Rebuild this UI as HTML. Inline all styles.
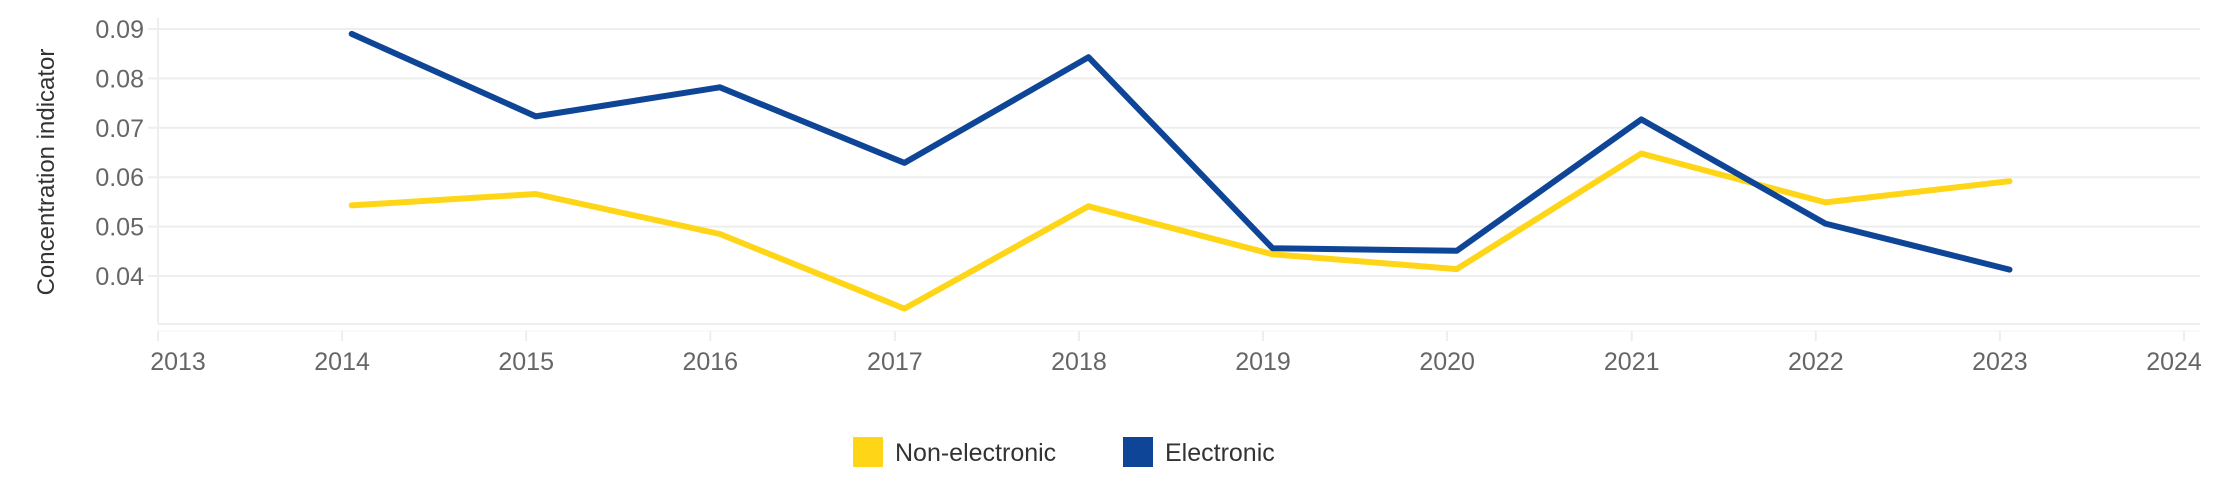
<!DOCTYPE html>
<html><head><meta charset="utf-8"><style>
html,body{margin:0;padding:0;background:#fff;}
svg{display:block;font-family:"Liberation Sans",Arial,sans-serif;}
</style></head><body>
<svg id="chart" width="2235" height="481" viewBox="0 0 2235 481" xmlns="http://www.w3.org/2000/svg">
<g id="grid"></g>
<g id="yaxis"></g>
<g id="xaxis"></g>
<g id="series"></g>
<text transform="translate(54,172) rotate(-90)" text-anchor="middle" font-size="24" fill="#333">Concentration indicator</text>
<g>
<g>
<rect x="853" y="437" width="30" height="30" fill="#ffd617"/>
<text x="895" y="461" font-size="25" fill="#333">Non-electronic</text>
</g>
<g>
<rect x="1123" y="437" width="30" height="30" fill="#0e4597"/>
<text x="1165" y="461" font-size="25" fill="#333">Electronic</text>
</g>
</g>
</svg>
<script>
const years = [2014,2015,2016,2017,2018,2019,2020,2021,2022,2023];
const electronic = [0.0890,0.0723,0.0782,0.0629,0.0843,0.0456,0.0451,0.0717,0.0506,0.0413];
const nonElectronic = [0.0543,0.0566,0.0485,0.0334,0.0541,0.0444,0.0414,0.0648,0.0549,0.0592];
const yTicks = [0.04,0.05,0.06,0.07,0.08,0.09];
const xTicks = [2013,2014,2015,2016,2017,2018,2019,2020,2021,2022,2023,2024];

const NS = "http://www.w3.org/2000/svg";
const L = 158, R = 2200, B = 324;
const t0 = Date.UTC(2013,0,1), t1 = Date.UTC(2024,0,1);
function xDate(ms){ return L + (ms - t0) / (t1 - t0) * (2184 - L); }
function xTick(y){ return xDate(Date.UTC(y,0,1)); }
function xPoint(y){ return xDate(Date.UTC(y,0,20)); }
function yScale(v){ return 29 + (0.09 - v) / 0.01 * 49.4; }
function mk(tag, attrs, parent){ const e=document.createElementNS(NS,tag); for(const k in attrs) e.setAttribute(k,attrs[k]); parent.appendChild(e); return e; }

const grid = document.getElementById('grid');
const yaxis = document.getElementById('yaxis');
const xaxis = document.getElementById('xaxis');
const series = document.getElementById('series');

yTicks.forEach(v=>{
  const y = yScale(v);
  const g = mk('line',{x1:L-10,x2:R,y1:y,y2:y,stroke:'#eeeeee','stroke-width':2},grid);
  
  
  const t = mk('text',{x:144,y:y+9,'text-anchor':'end','font-size':25,fill:'#666'},yaxis);
  
  
  t.textContent = v.toFixed(2);
});
const vl = mk('line',{x1:L,x2:L,y1:18,y2:B,stroke:'#eeeeee','stroke-width':2},grid);


const bl = mk('line',{x1:L,x2:R,y1:B,y2:B,stroke:'#eeeeee','stroke-width':2},grid);


const al = mk('line',{x1:L,x2:R,y1:331,y2:331,stroke:'#f4f4f4','stroke-width':1},xaxis);



xTicks.forEach(yr=>{
  const x = xTick(yr);
  const tk = mk('line',{x1:x,x2:x,y1:331,y2:341,stroke:'#eeeeee','stroke-width':2},xaxis);
  
  
  const t = mk('text',{x:x+(yr===2024?-10:(yr===2013?20:0)),y:370,'text-anchor':'middle','font-size':25,fill:'#666'},xaxis);
  
  
  t.textContent = yr;
});

function drawLine(vals, color, name){
  const d = vals.map((v,i)=>(i?'L':'M')+xPoint(years[i]).toFixed(1)+','+yScale(v).toFixed(1)).join(' ');
  const p = mk('path',{d:d,fill:'none',stroke:color,'stroke-width':6,'stroke-linejoin':'round','stroke-linecap':'round'},series);
  
  
}
drawLine(nonElectronic,'#ffd617','line-non-electronic');
drawLine(electronic,'#0e4597','line-electronic');
</script>
</body></html>
